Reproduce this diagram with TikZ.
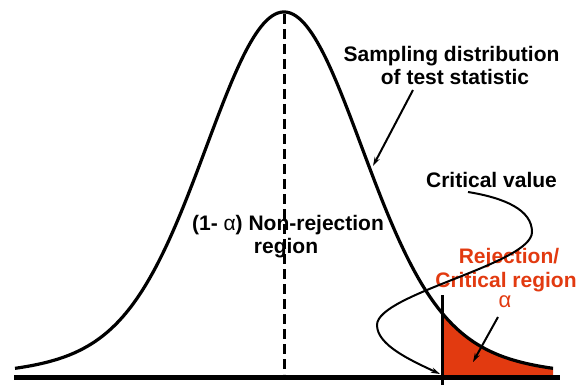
\documentclass[tikz,border=0pt]{standalone}
\usepackage{fontspec}
\setmainfont{Liberation Sans}
\usetikzlibrary{arrows.meta}
\definecolor{rej}{RGB}{226,58,16}
\begin{document}
\begin{tikzpicture}[x=1pt,y=-1pt,
  lbl/.style={font=\bfseries\fontsize{21}{23}\selectfont, anchor=base, inner sep=0pt},
  ptr/.style={line width=2pt, -{Stealth[length=9pt,width=5.5pt]}},
  declare function={dens(\t)=376-364*(0.82*exp(-0.5*((\t-284)/75)^2)+0.18*exp(-0.5*((\t-284)/128)^2));}]
\useasboundingbox (0,0) rectangle (583,385);
% rejection region
\fill[rej] (442,377) -- plot[domain=442:553,samples=60] (\x,{dens(\x)}) -- (553,377) -- cycle;
% curve
\draw[line width=3.2pt] plot[domain=15:553,samples=200] (\x,{dens(\x)});
% mean line
\draw[line width=3pt, dash pattern=on 10pt off 5pt] (284,14) -- (284,374);
% axis
\draw[line width=5pt] (14,377) -- (560,377);
% critical value line
\draw[line width=3pt] (442,295) -- (442,385);
% labels
\node[lbl] (samp1) at (451.5,62) {Sampling distribution};
\node[lbl] (samp2) at (455,85) {of test statistic};
\node[lbl] (non1) at (288,230) {(1- {\mdseries α}) Non-rejection};
\node[lbl] (non2) at (286,253) {region};
\node[lbl] (crit) at (491.5,187) {Critical value};
\node[lbl, text=rej] (rej1) at (509,263) {Rejection/};
\node[lbl, text=rej] (rej2) at (506,287) {Critical region};
\node[lbl, text=rej, font=\mdseries\fontsize{22}{23}\selectfont] (rej3) at (505,307) {α};
% connectors
\coordinate (sampstart) at (413,90);
\coordinate (samptip) at (373,166);
\draw[ptr] (sampstart) -- (samptip);
\coordinate (cvstart) at (468,192);
\coordinate (cvtip) at (440,374);
\draw[ptr] (cvstart) .. controls (505,198) and (532,210) .. (532,232)
  .. controls (532,264) and (377,294) .. (377,325)
  .. controls (377,345) and (410,360) .. (cvtip);
\coordinate (astart) at (498,317);
\coordinate (atip) at (473,362);
\draw[ptr] (astart) -- (atip);
\end{tikzpicture}
\end{document}
